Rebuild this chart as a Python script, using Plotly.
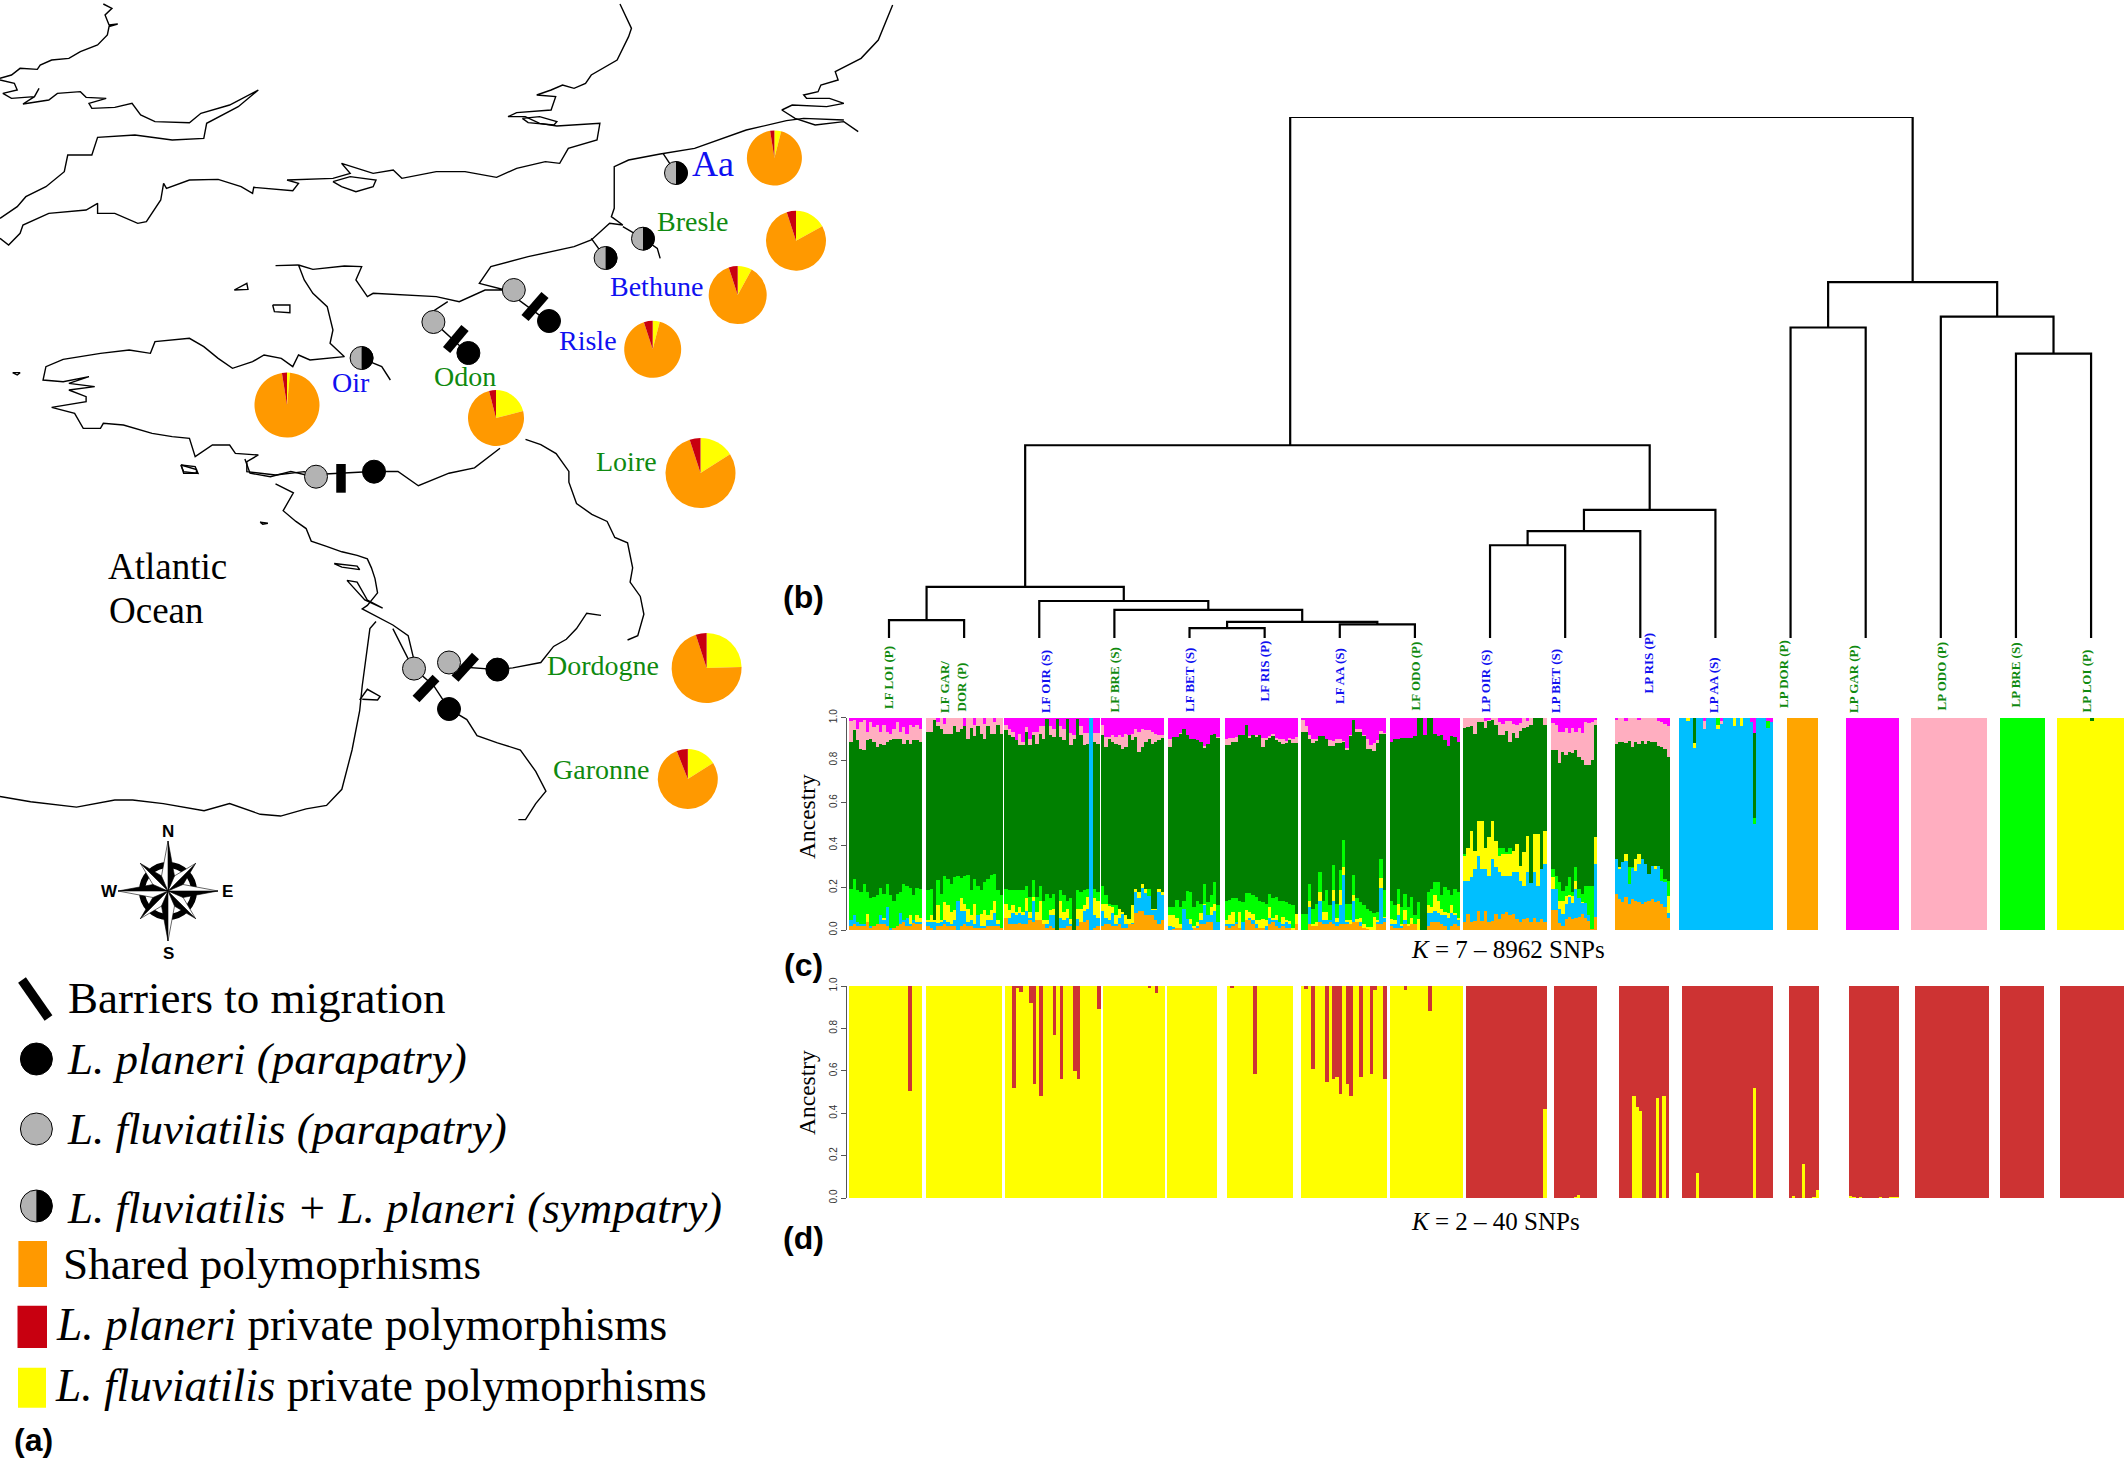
import numpy as np
import plotly.graph_objects as go

W, H = 2128, 1459
# ---------- colours ----------
C_ORANGE, C_BLUE, C_YELLOW, C_LIME, C_GREEN, C_PINK, C_MAGENTA = "#ffa500", "#00bfff", "#ffff00", "#00ff00", "#008000", "#ffaec0", "#ff00ff"
C_RED = "#cd3333"
TXT_GREEN, TXT_BLUE = "#0f8a0f", "#1010f0"

# ---------- panel (c) K=7: cumulative share per individual, [orange, blue, yellow, lime, green, pink] ----------
LF_LOI_C = [
 [.02,.03,.02,.02,.02,.04,.01,.02,.03,.03,.03,.02,0,.01,.02,.03,.04,.02,.02,.035,.03,.03],
 [.05,.07,.04,.03,.03,.04,.02,.02,.03,.07,.05,.11,.01,.01,.02,.08,.05,.06,.03,.05,.04,.04],
 [.05,.07,.04,.03,.03,.075,.02,.02,.03,.07,.06,.11,.01,.01,.02,.08,.05,.06,.07,.05,.07,.06],
 [.196,.24,.19,.18,.22,.18,.15,.157,.165,.20,.17,.22,.165,.14,.17,.18,.22,.21,.20,.165,.20,.196],
 [.887,.942,.895,.856,.848,.895,.903,.887,.863,.879,.871,.887,.895,.903,.90,.903,.879,.895,.879,.895,.895,.887],
 [.985,.99,.95,.98,.99,.934,.98,.958,.965,.934,.965,.934,.926,.95,.98,.934,.958,.926,.965,.958,.965,.95]]
LF_GAR_C = [
 [.02,.01,0,.02,.02,.03,.02,.02,.02,0,.02,.03,.02,.02,.01,.01,.01,.01,.02,.02,.02,.02,.01],
 [.04,.04,.04,.035,.04,.05,.04,.03,.05,.14,.09,.09,.04,.05,.03,.07,.02,.02,.05,.05,.08,.03,.01],
 [.047,.07,.047,.118,.047,.133,.118,.086,.094,.14,.154,.126,.10,.07,.126,.07,.078,.094,.07,.094,.14,.047,.01],
 [.19,.196,.047,.235,.17,.254,.24,.22,.25,.254,.248,.254,.26,.19,.243,.21,.19,.227,.243,.26,.267,.19,.165],
 [.934,.934,.994,.964,.95,.926,.926,.926,.964,.934,.95,.964,.90,.955,.915,.964,.926,.90,.964,.926,.926,.965,.926],
 [1,1,1,.98,1,.973,1,1,1,1,1,.95,1,1,.965,1,1,.973,1,1,.98,1,1]]
LF_OIR_C = [
 [.06,.03,.03,.03,.035,.03,.03,.05,.04,.05,.05,.03,.01,.02,.01,0,.01,.01,.02,.02,0,.02,.04,.04,.05,0,.01,.02],
 [.06,.06,.08,.07,.08,.07,.09,.06,.14,.05,.05,.03,.03,.07,.07,0,.06,.05,.06,.03,0,.055,.04,.09,.10,1,.07,.06],
 [.125,.094,.118,.086,.11,.086,.15,.086,.157,.086,.14,.047,.047,.094,.10,0,.14,.086,.10,.055,0,.10,.10,.118,.157,1,.15,.14],
 [.196,.19,.19,.19,.19,.19,.21,.157,.235,.157,.21,.14,.17,.15,.17,0,.19,.165,.14,.15,0,.19,.18,.19,.196,1,.196,.18],
 [.942,.918,.91,.895,.871,.871,.934,.871,.918,.879,.926,.90,.997,.918,.91,.997,.91,.895,.997,.871,.90,.997,.918,.871,.879,1,.886,.879],
 [.965,.95,.934,.89,.926,.887,.958,.90,.934,.934,.96,.96,.997,.96,.95,.997,.96,.95,.997,.93,.92,.997,.96,.93,.93,1,.93,.93]]
LF_BRE_C = [
 [.02,.03,.03,.02,.02,.03,.01,.01,.03,.03,.08,.09,.09,.07,.07,.07,.05,.03,.05],
 [.09,.06,.05,.08,.03,.06,.08,.03,.03,.035,.18,.15,.2,.175,.16,.1,.1,.18,.165],
 [.125,.125,.118,.11,.07,.10,.086,.07,.055,.118,.196,.18,.22,.196,.16,.102,.102,.196,.18],
 [.21,.165,.125,.118,.118,.10,.086,.07,.055,.118,.196,.18,.22,.196,.196,.102,.102,.196,.18],
 [.918,.863,.90,.887,.879,.871,.855,.863,.918,.895,.91,.84,.863,.887,.90,.879,.887,.895,.91],
 [.965,.91,.91,.918,.91,.918,.91,.926,.91,.926,.95,.934,.95,.942,.942,.934,.926,.918,.918]]
LF_BET_C = [
 [0,.01,.01,.01,0,0,0,.01,.01,.03,.03,.04,.04,0,0],
 [.02,.015,.01,.01,.1,.055,.03,.01,.02,.05,.12,.07,.07,.09,.04],
 [.07,.07,.06,.03,.1,.055,.055,.02,.04,.08,.126,.07,.11,.125,.04],
 [.11,.11,.144,.11,.14,.185,.18,.11,.14,.126,.22,.133,.165,.228,.118],
 [.863,.91,.91,.926,.95,.918,.903,.903,.895,.887,.863,.879,.918,.926,.91],
 [.90,.91,.91,.93,.95,.918,.903,.903,.895,.887,.87,.879,.918,.926,.912]]
LF_RIS_C = [
 [.02,.01,.02,.03,.01,0,.05,.05,.03,.01,.01,.01,0,.03,.04,.02,.01,.02,.01,.01,0,.03],
 [.03,.03,.03,.04,.01,.04,.04,.06,.05,.03,.01,.01,.02,.06,.05,.05,.04,.03,.04,.03,0,0],
 [.047,.07,.086,.04,.086,.04,.097,.086,.078,.05,.047,.055,.047,.11,.06,.07,.04,.063,.047,.044,.01,.075],
 [.14,.144,.15,.154,.14,.133,.176,.176,.165,.157,.137,.133,.126,.173,.15,.157,.14,.137,.133,.126,.118,.075],
 [.871,.871,.887,.887,.918,.918,.966,.91,.918,.91,.918,.863,.90,.91,.918,.895,.887,.879,.883,.895,.883,.88],
 [.90,.906,.906,.91,.918,.918,.966,.915,.918,.92,.918,.905,.905,.915,.925,.905,.90,.90,.89,.905,.90,.91]]
LF_AA_C = [
 [0,0,.03,.02,.02,.04,.03,.03,.04,.03,.02,.03,.03,.03,.03,.04,.04,.02,.01,.01,0,0,.03,.03,.04],
 [0,0,.11,.02,.02,.14,.05,.05,.05,.14,.04,.12,.26,.04,.03,.14,.03,.04,0,0,0,0,.04,.2,.06],
 [0,0,.138,.03,.04,.18,.086,.086,.05,.19,.06,.19,.30,.047,.047,.165,.055,.06,.03,.016,.016,.063,.047,.248,.063],
 [.075,.075,.22,.10,.126,.275,.14,.19,.118,.306,.126,.283,.424,.126,.126,.26,.15,.133,.118,.102,.09,.08,.086,.338,.19],
 [.934,.934,.90,.88,.895,.915,.915,.90,.87,.87,.88,.88,.887,.85,.918,.994,.934,.934,.918,.855,.855,.843,.88,.926,.926],
 [.995,.96,.92,.90,.90,.915,.915,.90,.895,.89,.9,.9,.89,.86,.92,.994,.95,.95,.92,.9,.875,.88,.895,.94,.93]]
LF_ODO_C = [
 [.02,.01,.01,.01,.03,.02,.03,.03,0,0,0,.02,.04,.04,.04,.03,.02,0,.02,.03,.02],
 [.03,.03,.07,.02,.05,.02,.03,.02,0,0,0,.08,.08,.09,.08,.07,.07,.06,.08,.07,.05],
 [.055,.047,.125,.03,.097,.03,.06,.03,.055,0,0,.118,.11,.165,.14,.10,.086,.08,.118,.08,.06],
 [.14,.118,.196,.11,.173,.11,.157,.07,.133,0,0,.18,.196,.228,.228,.165,.204,.19,.165,.196,.18],
 [.887,.903,.9,.906,.906,.906,.906,.915,1,1,.922,1,1,.926,.915,.918,.895,.87,.915,.91,.887],
 [.887,.903,.9,.906,.906,.906,.906,.915,1,1,.922,1,1,.926,.915,.918,.895,.87,.915,.91,.887]]
LP_OIR_C = [
 [.038,.077,.038,.045,.093,.045,.093,.038,.045,.077,.053,.077,.085,.07,.077,.053,.038,.053,.06,.038,.06,.038,.053,.038],
 [.234,.234,.25,.289,.352,.289,.289,.257,.336,.296,.273,.257,.257,.257,.273,.273,.234,.21,.273,.225,.273,.21,.289,.31],
 [.35,.39,.47,.375,.516,.516,.39,.438,.516,.42,.35,.36,.36,.36,.375,.406,.305,.367,.446,.225,.454,.454,.289,.47],
 [.36,.39,.47,.375,.516,.516,.39,.438,.516,.42,.39,.39,.37,.39,.375,.406,.305,.367,.446,.225,.454,.454,.289,.47],
 [.951,.959,.962,.927,.983,.983,.951,.987,.99,.967,.92,.92,.937,.889,.928,.904,.937,.951,.959,.967,1,1,1,.967],
 [1,1,1,1,1,1,.985,.99,1,1,.98,.97,.985,.985,.97,.965,.975,1,.985,1,1,1,1,1]]
LP_BET_C = [
 [.096,.096,.033,.022,.053,.061,.053,.056,.061,.077,.056,.045,.006,.061],
 [.195,.195,.10,.075,.125,.16,.13,.195,.15,.13,.13,.07,.006,.31],
 [.25,.195,.14,.14,.16,.166,.16,.23,.15,.135,.13,.07,.006,.438],
 [.29,.257,.226,.187,.21,.25,.18,.30,.195,.17,.21,.21,.21,.438],
 [.85,.85,.786,.841,.826,.841,.834,.85,.818,.802,.78,.78,.80,.967],
 [.975,.967,.936,.936,.951,.93,.951,.936,.951,.928,.983,.975,.983,.99]]
LP_RIS_C = [
 [.17,.148,.132,.155,.124,.148,.14,.132,.124,.132,.14,.148,.132,.14,.124,.11,.06],
 [.336,.289,.32,.328,.22,.297,.28,.31,.336,.31,.265,.305,.289,.305,.234,.226,.08],
 [.336,.30,.32,.36,.22,.297,.336,.36,.336,.31,.265,.305,.305,.305,.234,.226,.163],
 [.336,.30,.32,.36,.30,.30,.336,.36,.336,.31,.265,.305,.305,.305,.29,.24,.23],
 [.878,.886,.886,.881,.89,.865,.886,.878,.893,.878,.893,.886,.886,.87,.862,.854,.818],
 [.995,1,1,.984,1,1,1,.99,1,1,1,1,1,.987,.98,.97,.964]]
LP_AA_C = [
 [0]*28,
 [1,1,.985,1,.86,1,1,.95,1,1,1,.95,.97,1,1,1,.96,1,.96,1,1,.98,.50,1,1,1,.955,.98],
 [1,1,1,1,.88,1,1,.95,1,1,1,.965,.97,1,1,1,1,1,1,1,1,.98,.50,1,1,1,.955,.98],
 [1,1,1,1,.88,1,1,.95,1,1,1,1,.97,1,1,1,1,1,1,1,1,.98,.53,1,1,1,.985,.98],
 [1,1,1,1,1,1,1,.95,1,1,1,1,.97,1,1,1,1,1,1,1,1,.98,.93,1,1,1,.985,.98],
 [1,1,1,1,1,1,1,.985,1,1,1,1,.985,1,1,1,1,1,1,1,1,.98,.93,1,1,1,.985,.98]]
LP_DOR_C = [[1]*9, [1]*9, [1]*9, [1]*9, [1]*9, [1]*9]
LP_GAR_C = [[0]*16, [0]*16, [0]*16, [0]*16, [0]*16, [0]*16]
LP_ODO_C = [[0]*22, [0]*22, [0]*22, [0]*22, [0]*22, [1]*22]
LP_BRE_C = [[0]*13, [0]*13, [0]*13, [1]*13, [1]*13, [1]*13]
LP_LOI_C = [[0]*20, [0]*20,
 [1,1,1,1,1,1,1,1,1,1,.985,1,1,1,1,1,1,1,1,1],
 [1,1,1,1,1,1,1,1,1,1,.985,1,1,1,1,1,1,1,1,1],
 [1]*20, [1]*20]

GROUPS_C = [LF_LOI_C, LF_GAR_C, LF_OIR_C, LF_BRE_C, LF_BET_C, LF_RIS_C, LF_AA_C, LF_ODO_C,
            LP_OIR_C, LP_BET_C, LP_RIS_C, LP_AA_C, LP_DOR_C, LP_GAR_C, LP_ODO_C, LP_BRE_C, LP_LOI_C]
SPANS_C = [(849.2,922),(926.4,1003),(1004.5,1099.6),(1101,1164),(1168.4,1220),(1224.6,1298),(1301.4,1386),(1390,1460),
           (1462.8,1546.6),(1551.4,1597),(1614.6,1670),(1679.5,1773),(1787,1817.6),(1846,1899),(1910.6,1987),(2000,2045),(2057,2124)]

# ---------- panel (d) K=2: share of the yellow cluster per individual ----------
LF_LOI_D = [1,1,1,1,1,1,1,1,1,1,1,1,1,1,1,1,1,.505,1,1,1]
LF_GAR_D = [1]*22
LF_OIR_D = [1,1,.52,.99,.97,1,1,.92,.54,1,.48,1,1,1,.77,1,.56,1,1,1,.60,.56,1,1,1,1,1,.89]
LF_BRE_D = [1,1,1,1,1,1,1,1,1,1,1,1,1,.99,1,.965,1,1]
LF_BET_D = [1]*15
LF_RIS_D = [1,.99,1,1,1,1,1,1,.585,1,1,1,1,1,1,1,1,1,1,1]
LF_AA_D = [1,.985,1,.61,1,1,1,.545,1,.56,.57,.49,1,.54,.48,1,1,.57,1,1,.585,.98,1,1,.56]
LF_ODO_D = [1,1,1,1,.98,1,1,1,1,1,1,.88,1,1,1,1,1,1,1,1,1]
LP_OIR_D = [0,0,0,0,0,0,0,0,0,0,0,0,0,0,0,0,0,0,0,0,0,0,.42]
LP_BET_D = [0,0,0,0,0,0,.005,.015,0,0,0,0,0]
LP_RIS_D = [0,0,0,0,.48,.43,.41,0,0,0,0,.47,0,.48,0]
LP_AA_D = [0,0,0,0,.12,0,0,0,0,0,0,0,0,0,0,0,0,0,0,0,0,.52,0,0,0,0,0]
LP_DOR_D = [0,.01,0,0,.16,0,0,.005,.04]
LP_GAR_D = [.01,.005,0,.005,0,.002,0,0,.002,.005,0,0,.005,.005,.004]
LP_ODO_D = [0]*21
LP_BRE_D = [0]*13
LP_LOI_D = [0]*19
GROUPS_D = [LF_LOI_D, LF_GAR_D, LF_OIR_D, LF_BRE_D, LF_BET_D, LF_RIS_D, LF_AA_D, LF_ODO_D,
            LP_OIR_D, LP_BET_D, LP_RIS_D, LP_AA_D, LP_DOR_D, LP_GAR_D, LP_ODO_D, LP_BRE_D, LP_LOI_D]
SPANS_D = [(849,922),(926,1002),(1005.5,1100.5),(1103,1165),(1167.5,1217),(1227,1293.4),(1301,1387),(1390,1463),
           (1466,1546.6),(1553.6,1597),(1619,1669),(1682.5,1773),(1788.7,1819),(1849,1899),(1915.4,1988.7),(2000.5,2044.4),(2060,2124)]

# ---------- dendrogram: (left, right, height, optional attach position) ----------
POP_LABELS = ["LF LOI (P)", "LF GAR/<br>DOR (P)", "LF OIR (S)", "LF BRE (S)", "LF BET (S)", "LF RIS (P)", "LF AA (S)", "LF ODO (P)",
              "LP OIR (S)", "LP BET (S)", "LP RIS (P)", "LP AA (S)", "LP DOR (P)", "LP GAR (P)", "LP ODO (P)", "LP BRE (S)", "LP LOI (P)"]
POP_COLOURS = ["g","g","b","g","b","b","b","g","b","b","b","b","g","g","g","g","g"]
LABEL_X = [888.5,953,1045.6,1114,1189,1264,1339,1415,1485,1555,1648,1713,1783,1853,1941,2015,2086]
LABEL_BOTTOM = [711,715,715,715,714,704,706,713,715,715,696,715,710,715,713,710,715]
MERGES = {"A":(5,6,.019),"B":(7,8,.026),"C":("A","B",.031),"D":(4,"C",.054),"E":(3,"D",.071),"F":(1,2,.0345),
          "G":("F","E",.098),"H":(9,10,.178),"I":("H",11,.205),"J":("I",12,.246),"K":("G","J",.37,6.34),
          "L":(13,14,.596),"M":(16,17,.546),"N":(15,"M",.617),"O":("L","N",.683),"P":("K","O",1.0)}

# ---------- pie charts: yellow, orange, red ----------
PIE_NAMES = ["Aa","Bresle","Bethune","Risle","Oir","Odon","Loire","Dordogne","Garonne"]
PIE_YELLOW = [4,17,8,4,1.5,21,16,24.5,16]
PIE_RED = [2.5,5,5,5,2.5,4,5,5,6]
PIE_ORANGE = [93.5,78,87,91,96,75,79,70.5,78]
PIE_CX = [774.4,796,737.7,652.7,287,496,700.5,706.6,687.8]
PIE_CY = [158,240.7,295,349.3,405,418,473,668,779]
PIE_R = [27.5,30,29,28.5,32.5,28,35,35,30]

# ---------- map site markers and river labels ----------
HALF_SITES = [(676,173),(643,238.7),(605.6,258),(361.6,358)]
GRAY_SITES = [(513.8,290),(433.4,322),(316,476.7),(449,662.5),(414,668.6)]
BLACK_SITES = [(549,321),(468.4,353),(374,471.7),(497.4,669.6),(449,709)]
BARRIERS = [((545,295),(525,318)),((465,328),(446.6,350)),((341,464),(341,492.7)),((475.5,656),(455,678.6)),((436,678),(416,699))]
RIVER_LABELS = [("Aa",713,164,36,TXT_BLUE),("Bresle",693,221,28,TXT_GREEN),("Bethune",656,286,28,TXT_BLUE),("Risle",588,340,28,TXT_BLUE),
                ("Oir",351,382,28,TXT_BLUE),("Odon",465,376,28,TXT_GREEN),("Loire",626,461.5,28,TXT_GREEN),("Dordogne",603,665,28,TXT_GREEN),
                ("Garonne",601,769,28,TXT_GREEN),("Atlantic",167.5,566,37,"black")]

# ---------- coast and rivers, in the two zoom frames of the source picture ----------
UPPER = [
 [(180,12),(195,25),(183,45),(190,75),(205,72),(190,80),(187,105),(170,135),(140,155),(120,175),(90,180),(70,195),(65,208),(35,205),(20,225),(0,235)],
 [(0,240),(25,250),(30,270),(5,280),(20,295),(60,290),(68,265),(60,290),(40,312),(85,300),(100,280),(140,275),(150,292),(185,295),(155,310),(160,325),(200,322),(230,310),(245,345),(270,365),(330,368),(350,340),(400,315),(450,270),(415,320),(360,370),(355,415),(300,420),(235,405),(170,412),(160,465),(118,465),(112,515),(80,560),(45,590),(30,620),(0,655)],
 [(0,715),(15,735),(35,700),(40,675),(85,640),(150,630),(170,610),(170,640),(200,640),(240,670),(255,665),(280,600),(285,550),(290,565),(330,540),(380,538),(420,560),(440,580),(442,562),(510,572),(520,550),(500,540),(580,535),(610,520),(595,490),(650,520),(685,510),(700,535),(760,515),(810,515),(865,532),(900,505),(950,485),(975,490),(990,445),(1040,420),(1045,370),(970,378),(940,370),(915,350),(885,350),(900,338),(960,330),(968,290),(935,285),(960,270),(980,255),(1000,265),(1020,250),(1030,225),(1075,180),(1095,110),(1100,85),(1080,12)],
 [(580,545),(610,530),(655,540),(650,560),(620,575),(595,560),(580,545)],
 [(910,355),(940,350),(970,365),(965,375),(920,368),(910,355)],
 [(1555,15),(1530,120),(1500,175),(1455,215),(1460,240),(1430,255),(1425,275),(1400,285),(1405,295),(1445,295),(1470,310),(1440,320),(1380,315),(1362,330),(1385,355),(1420,375),(1470,365),(1495,395)],
 [(1470,360),(1400,355),(1370,362),(1300,390),(1210,445),(1150,462),(1095,480),(1070,500),(1070,625),(1065,650),(1085,675),(1062,670),(1030,720),(1000,740),(920,770),(855,800),(835,850),(880,870),(845,870),(800,905),(760,890),(650,880),(640,890),(620,840),(630,800),(600,798),(545,808),(520,795),(530,840),(545,880),(570,920),(580,990),(575,1030),(600,1070),(540,1080),(520,1065),(510,1100),(490,1075),(460,1065),(440,1085),(405,1105),(380,1075),(355,1040),(330,1015),(270,1025),(262,1060),(225,1050),(175,1060),(110,1078),(80,1100),(75,1140),(110,1145),(155,1130),(120,1150),(165,1160),(120,1170),(150,1190),(150,1205),(90,1222),(130,1240),(145,1285),(175,1285),(180,1270),(215,1275),(265,1300),(300,1310),(330,1315),(340,1370),(370,1335),(400,1335),(410,1360),(450,1365),(430,1385),(430,1415),(480,1425),(530,1415),(550,1430)],
 [(1155,460),(1178,520)], [(1085,680),(1120,715),(1145,745),(1150,775)], [(1030,715),(1055,775)], [(880,870),(955,965)],
 [(780,905),(740,950),(755,965),(815,1060)], [(630,1075),(665,1100),(680,1140)],
 [(520,795),(480,797)], [(408,870),(430,850),(432,868),(408,870)], [(475,915),(505,915),(505,938),(478,935),(475,915)], [(22,1118),(35,1118),(30,1125),(22,1118)],
 [(315,1395),(340,1400),(345,1420),(320,1415),(315,1395)]]
LOWER = [
 [(480,165),(490,205),(530,215),(570,200),(600,210)],
 [(540,235),(575,260),(555,310),(580,340),(600,360),(610,395),(640,410),(670,425),(700,435),(720,445),(728,470),(735,500),(740,540),(720,575),(710,585),(770,630),(800,660),(810,720)],
 [(770,640),(800,725),(815,750)],
 [(737,620),(725,640),(710,800),(705,870),(690,980),(670,1090),(640,1135),(600,1145),(550,1165),(510,1160),(450,1130),(400,1150),(320,1130),(260,1120),(225,1120),(150,1140),(60,1125),(0,1110)],
 [(705,840),(720,810),(745,830),(740,840),(710,838)],
 [(680,505),(700,510),(720,560),(750,583),(715,560),(680,505)],
 [(655,458),(700,465),(705,475),(670,468),(655,458)],
 [(510,342),(525,345),(515,348),(510,342)],
 [(355,182),(385,195),(385,205),(360,205),(355,182)],
 [(600,210),(730,200),(780,200),(820,240),(880,205),(930,190),(980,135)],
 [(1030,110),(1060,125),(1090,150),(1115,200),(1115,230),(1130,290),(1160,320),(1190,340),(1205,385),(1230,400),(1240,470),(1235,510),(1255,550),(1262,600),(1250,660),(1230,672)],
 [(880,745),(975,755),(1005,750),(1060,735),(1085,690),(1110,670),(1130,640),(1150,597),(1178,603)],
 [(810,750),(850,800),(880,865),(915,895),(935,940),(975,960),(1020,980),(1050,1040),(1070,1095),(1050,1130),(1030,1175),(1016,1175)]]

fig = go.Figure()

# ---------- coast lines ----------
def add_lines(paths, fx, fy, ox, oy):
    xs, ys = [], []
    for p in paths:
        xs += [ox + a / fx for a, _ in p] + [None]
        ys += [oy + b / fy for _, b in p] + [None]
    fig.add_trace(go.Scatter(x=xs, y=ys, mode="lines", line=dict(color="black", width=1.4), hoverinfo="skip", showlegend=False))
add_lines(UPPER, 1.742, 3, 0, 0)
add_lines(LOWER, 1.96, 2.8, 0, 400)

# ---------- barriers ----------
bx, by = [], []
for a, b in BARRIERS + [((22, 980), (48.5, 1018))]:
    bx += [a[0], b[0], None]; by += [a[1], b[1], None]
fig.add_trace(go.Scatter(x=bx, y=by, mode="lines", line=dict(color="black", width=9.5), hoverinfo="skip", showlegend=False))

# ---------- sites ----------
def sites(pts, colour, size):
    fig.add_trace(go.Scatter(x=[p[0] for p in pts], y=[p[1] for p in pts], mode="markers",
                             marker=dict(color=colour, size=size, line=dict(color="black", width=1)),
                             hoverinfo="skip", showlegend=False))
sites(HALF_SITES + GRAY_SITES, "#b3b3b3", 23)
sites(BLACK_SITES, "black", 23)
sites([(36.4, 1059)], "black", 32)
sites([(36.4, 1129), (36.4, 1206)], "#b3b3b3", 32)

shapes = []
def half(cx, cy, r):
    k = .5523 * r
    return dict(type="path", xref="x", yref="y", fillcolor="black", line=dict(color="black", width=0), layer="above",
                path=f"M {cx},{cy-r} C {cx+k},{cy-r} {cx+r},{cy-k} {cx+r},{cy} C {cx+r},{cy+k} {cx+k},{cy+r} {cx},{cy+r} Z")
shapes += [half(x, y, 11.7) for x, y in HALF_SITES] + [half(36.4, 1206, 16)]
for x0, x1, y0, y1, col in [(18.4,47,1241,1287,"#ff9900"),(17.5,47,1305.7,1348,"#c80010"),(18,46,1367.7,1407.7,"#ffff00")]:
    shapes.append(dict(type="rect", xref="x", yref="y", x0=x0, x1=x1, y0=y0, y1=y1, fillcolor=col, line=dict(width=0), layer="above"))

# ---------- compass ----------
CX, CY = 168, 891
shapes.append(dict(type="circle", xref="x", yref="y", x0=CX-26, x1=CX+26, y0=CY-26, y1=CY+26, fillcolor="white",
                   line=dict(color="black", width=6), layer="below"))
def kite(angle, r, w):
    t = np.radians(angle)
    u = np.array([np.sin(t), -np.cos(t)]); v = np.array([np.cos(t), np.sin(t)])
    c = np.array([CX, CY]); tip = c + u * r; base = c + u * r * .3
    for side, col in [(1, "black"), (-1, "white")]:
        p = np.array([c, base + side * v * w, tip, c])
        fig.add_trace(go.Scatter(x=p[:,0], y=p[:,1], mode="lines", fill="toself", fillcolor=col,
                                 line=dict(color="black", width=.6), hoverinfo="skip", showlegend=False))
for a in (45, 135, 225, 315):
    kite(a, 39, 7)
for a in (0, 90, 180, 270):
    kite(a, 50, 6.5)

# ---------- ancestry bars ----------
def bar_layer(x, w, y, colour, xa, ya):
    fig.add_trace(go.Bar(x=x, y=y, width=w, marker=dict(color=colour, line=dict(width=0)), xaxis=xa, yaxis=ya, showlegend=False))

xs, ws, stack = [], [], [[] for _ in range(7)]
for grp, (a, b) in zip(GROUPS_C, SPANS_C):
    tops = np.maximum.accumulate(np.array(grp, dtype=float), axis=0)
    n = tops.shape[1]
    w = (b - a) / n
    xs += list(a + w * (np.arange(n) + .5)); ws += [w + .15] * n
    full = np.vstack([np.zeros(n), tops, np.ones(n)])
    for k, h in enumerate(np.diff(full, axis=0)):
        stack[k] += list(h)
for col, h in zip([C_ORANGE, C_BLUE, C_YELLOW, C_LIME, C_GREEN, C_PINK, C_MAGENTA], stack):
    bar_layer(xs, ws, h, col, "x2", "y2")

xs, ws, yel = [], [], []
for grp, (a, b) in zip(GROUPS_D, SPANS_D):
    n = len(grp); w = (b - a) / n
    xs += list(a + w * (np.arange(n) + .5)); ws += [w + .15] * n; yel += list(grp)
yel = np.array(yel, dtype=float)
bar_layer(xs, ws, yel, C_YELLOW, "x3", "y3")
bar_layer(xs, ws, 1 - yel, C_RED, "x3", "y3")

# ---------- dendrogram ----------
pos, hgt = {i: float(i) for i in range(1, 18)}, {i: 0.0 for i in range(1, 18)}
dx, dy = [], []
for key, m in MERGES.items():
    l, r, h = m[:3]
    dx += [pos[l], pos[l], pos[r], pos[r], None]
    dy += [hgt[l], h, h, hgt[r], None]
    pos[key] = m[3] if len(m) > 3 else (pos[l] + pos[r]) / 2
    hgt[key] = h
fig.add_trace(go.Scatter(x=dx, y=dy, mode="lines", line=dict(color="black", width=2.2), xaxis="x4", yaxis="y4",
                         hoverinfo="skip", showlegend=False))

# ---------- pies ----------
for i, name in enumerate(PIE_NAMES):
    cx, cy, r = PIE_CX[i], PIE_CY[i], PIE_R[i]
    fig.add_trace(go.Pie(values=[PIE_YELLOW[i], PIE_ORANGE[i], PIE_RED[i]], labels=["L. fluviatilis private", "Shared", "L. planeri private"],
                         name=name, sort=False, direction="clockwise", rotation=0, textinfo="none", showlegend=False,
                         marker=dict(colors=["#ffff00", "#ff9900", "#c80010"], line=dict(width=0)),
                         domain=dict(x=[(cx-r)/W, (cx+r)/W], y=[1-(cy+r)/H, 1-(cy-r)/H])))

# ---------- text ----------
SERIF, SANS = "Liberation Serif", "Liberation Sans"
ann = []
def text(x, y, s, size, colour="black", family=SERIF, xa="left", ya="middle", angle=0):
    ann.append(dict(x=x, y=y, xref="x", yref="y", text=s, showarrow=False, xanchor=xa, yanchor=ya, textangle=angle,
                    font=dict(family=family, size=size, color=colour)))
for s, x, y, size, col in RIVER_LABELS:
    text(x, y, s, size, col, xa="center")
text(106.5, 610.7, "Ocean", 37)
for s, x, y in [("N",168,831),("S",168,953),("W",109,891),("E",227,891)]:
    text(x, y, f"<b>{s}</b>", 17, family=SANS, xa="center")
for s, x, y, size in [("Barriers to migration",65.5,998,45),("<i>L. planeri (parapatry)</i>",64.5,1059,45),("<i>L. fluviatilis (parapatry)</i>",64.5,1129,45),
                ("<i>L. fluviatilis + L. planeri (sympatry)</i>",64.5,1208,45),("Shared polymoprhisms",60.5,1263.5,45.2),
                ("<i>L. planeri</i> private polymorphisms",53.5,1325,45.4),("<i>L. fluviatilis</i> private polymoprhisms",52.5,1386,45.4)]:
    text(x, y, s, size)
for s, x, y in [("(a)",33,1440),("(b)",803,597),("(c)",803,965),("(d)",803,1238)]:
    text(x, y, f"<b>{s}</b>", 32, family=SANS, xa="center")
text(807, 817, "Ancestry", 23.5, xa="center", angle=-90)
text(807, 1093, "Ancestry", 23.5, xa="center", angle=-90)
text(1409, 949, "<i>K</i> = 7 – 8962 SNPs", 25)
text(1409, 1221, "<i>K</i> = 2 – 40 SNPs", 25)
for s, x, y, c in zip(POP_LABELS, LABEL_X, LABEL_BOTTOM, POP_COLOURS):
    text(x, y, f"<b>{s}</b>", 13, TXT_GREEN if c == "g" else TXT_BLUE, xa="center", ya="bottom", angle=-90)

# ---------- axes ----------
hidden = dict(visible=False, showgrid=False, zeroline=False)
def y_dom(top, bottom):
    return [1 - bottom / H, 1 - top / H]
def anc_y(anchor, top, bottom):
    return dict(domain=y_dom(top, bottom), range=[0, 1], anchor=anchor, side="left", showgrid=False, zeroline=False,
                showline=True, linecolor="#555555", linewidth=1, ticks="outside", ticklen=5, tickwidth=1, tickcolor="#555555",
                tickvals=[0, .2, .4, .6, .8, 1], ticktext=["0.0", "0.2", "0.4", "0.6", "0.8", "1.0"], tickangle=-90,
                tickfont=dict(family=SANS, size=10, color="#333333"))
unit = 75.13
fig.update_layout(
    width=W, height=H, autosize=False, margin=dict(l=0, r=0, t=0, b=0), paper_bgcolor="white", plot_bgcolor="rgba(0,0,0,0)",
    showlegend=False, barmode="stack", bargap=0, template=None, shapes=shapes, annotations=ann,
    xaxis=dict(domain=[0, 1], range=[0, W], **hidden),
    yaxis=dict(domain=[0, 1], range=[H, 0], **hidden),
    xaxis2=dict(domain=[847 / W, 1], range=[847, W], anchor="y2", **hidden),
    yaxis2=anc_y("x2", 717.7, 930),
    xaxis3=dict(domain=[847 / W, 1], range=[847, W], anchor="y3", **hidden),
    yaxis3=anc_y("x3", 986, 1198),
    xaxis4=dict(domain=[0, 1], range=[1 - 889 / unit, 1 + (W - 889) / unit], anchor="y4", **hidden),
    yaxis4=dict(domain=y_dom(117, 638), range=[0, 1], anchor="x4", **hidden),
)
fig.write_html("out.html", config=dict(displayModeBar=False), post_script="document.body.style.margin='0';document.documentElement.style.overflow='hidden';")
